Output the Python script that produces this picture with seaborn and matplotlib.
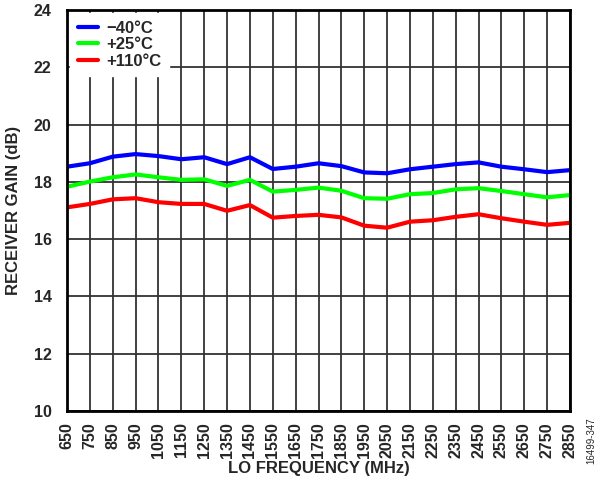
import numpy as np
import pandas as pd
import matplotlib
matplotlib.use("Agg")
import matplotlib.pyplot as plt
import seaborn as sns

# Data
freq_mhz = [650, 750, 850, 950, 1050, 1150, 1250, 1350, 1450, 1550, 1650, 1750,
            1850, 1950, 2050, 2150, 2250, 2350, 2450, 2550, 2650, 2750, 2850]
gain_m40 = [18.53, 18.65, 18.88, 18.97, 18.90, 18.79, 18.86, 18.62, 18.86, 18.45, 18.53, 18.65,
            18.55, 18.33, 18.30, 18.44, 18.53, 18.62, 18.68, 18.53, 18.44, 18.34, 18.41]
gain_p25 = [17.83, 18.01, 18.16, 18.26, 18.16, 18.07, 18.09, 17.86, 18.07, 17.66, 17.72, 17.80,
            17.69, 17.43, 17.41, 17.57, 17.61, 17.74, 17.78, 17.68, 17.57, 17.46, 17.54]
gain_p110 = [17.11, 17.23, 17.39, 17.43, 17.29, 17.23, 17.23, 16.99, 17.19, 16.75, 16.81, 16.85,
             16.76, 16.47, 16.40, 16.61, 16.66, 16.78, 16.87, 16.73, 16.61, 16.50, 16.57]
temps = ["\u221240\u00b0C", "+25\u00b0C", "+110\u00b0C"]
colors = ["#0000ff", "#00ff00", "#ff0000"]

df = pd.DataFrame({
    "freq": freq_mhz * 3,
    "gain": gain_m40 + gain_p25 + gain_p110,
    "temp": [temps[0]] * len(freq_mhz) + [temps[1]] * len(freq_mhz) + [temps[2]] * len(freq_mhz),
})

sns.set_style("white")
plt.rcParams["font.family"] = ["Liberation Sans", "DejaVu Sans"]
plt.rcParams["font.weight"] = "bold"

fig = plt.figure(figsize=(6, 4.84), dpi=100)
ax = fig.add_axes([0.1117, 0.1508, 0.8383, 0.8285])

sns.lineplot(data=df, x="freq", y="gain", hue="temp", hue_order=temps,
             palette=dict(zip(temps, colors)), linewidth=3, ax=ax)

ax.set_xlim(650, 2850)
ax.set_ylim(10, 24)
ax.set_xticks(freq_mhz)
ax.set_xticklabels([str(f) for f in freq_mhz], rotation=90, fontsize=11.5, fontweight="bold")
ax.set_yticks(range(10, 25, 2))
ax.set_yticklabels([str(v) for v in range(10, 25, 2)], fontsize=11.5, fontweight="bold")
ax.grid(True, color="#333333", linewidth=1.3)
ax.set_axisbelow(True)
ax.tick_params(axis="y", length=0, pad=11)
ax.tick_params(axis="x", length=0, pad=8)
for s in ax.spines.values():
    s.set_color("black")
    s.set_linewidth(2)

ax.set_xlabel("LO FREQUENCY (MHz)", fontsize=12, fontweight="bold")
ax.set_ylabel("RECEIVER GAIN (dB)", fontsize=12, fontweight="bold")
ax.xaxis.set_label_coords(0.5, -0.125)
ax.yaxis.set_label_coords(-0.091, 0.5)

leg = ax.legend(loc="upper left", frameon=True, fontsize=12, handlelength=1.2,
                borderaxespad=0.35, labelspacing=0.08, handletextpad=0.5,
                borderpad=0.3)
leg.get_frame().set_edgecolor("white")
leg.get_frame().set_facecolor("white")
leg.get_frame().set_alpha(1)
leg.get_frame().set_boxstyle("square", pad=0.15)
for t in leg.get_texts():
    t.set_fontweight("bold")
leg.set_title(None)

fig.text(0.985, 0.09, "16499-347", rotation=90, fontsize=7, fontweight="normal",
         ha="center", va="center")

fig.savefig("out.png", dpi=100)
